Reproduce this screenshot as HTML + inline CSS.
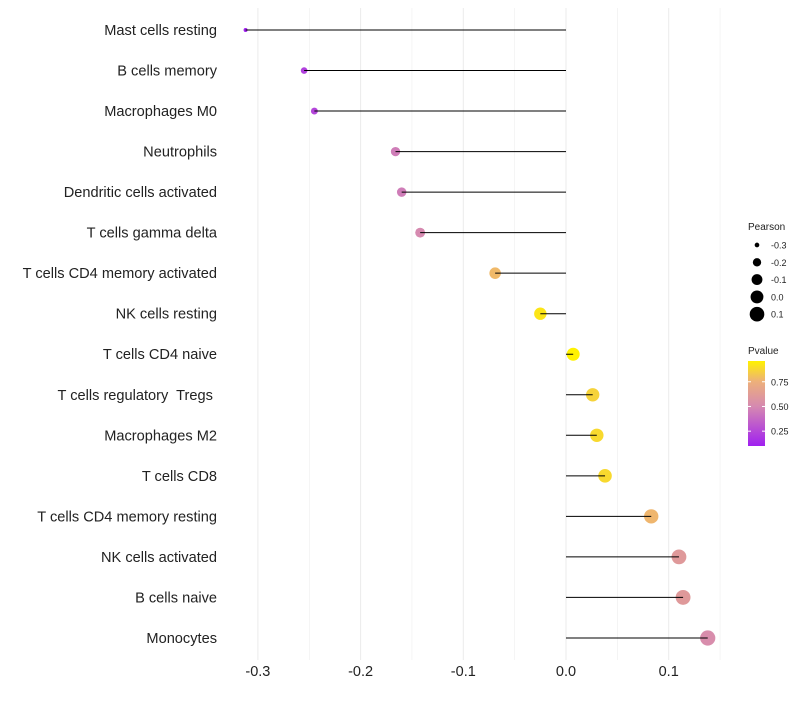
<!DOCTYPE html>
<html><head><meta charset="utf-8"><style>
body{margin:0;background:#fff;font-family:"Liberation Sans",sans-serif}
text{white-space:pre}
</style></head><body>
<svg id="c" width="800" height="700" xmlns="http://www.w3.org/2000/svg" style="font-family:'Liberation Sans',sans-serif"></svg>
<script>
const categories=["Mast cells resting","B cells memory","Macrophages M0","Neutrophils","Dendritic cells activated","T cells gamma delta","T cells CD4 memory activated","NK cells resting","T cells CD4 naive","T cells regulatory  Tregs ","Macrophages M2","T cells CD8","T cells CD4 memory resting","NK cells activated","B cells naive","Monocytes"];
const pearson=[-0.312,-0.255,-0.245,-0.166,-0.160,-0.142,-0.069,-0.025,0.007,0.026,0.030,0.038,0.083,0.110,0.114,0.138];
const pvalue=[0.10,0.22,0.24,0.45,0.45,0.50,0.78,0.92,0.96,0.86,0.88,0.88,0.77,0.60,0.60,0.52];
const xTicks=[-0.3,-0.2,-0.1,0.0,0.1];
const xTickLabels=["-0.3","-0.2","-0.1","0.0","0.1"];
const sizeLegend=[-0.3,-0.2,-0.1,0.0,0.1];
const pLegend=[0.25,0.50,0.75];
const svg=document.getElementById('c');
const NS='http://www.w3.org/2000/svg';
function mk(t,a,p){const e=document.createElementNS(NS,t);for(const k in a)e.setAttribute(k,a[k]);(p||svg).appendChild(e);return e;}
const x=v=>566+v*1027;
const y=i=>30+i*40.53;
const r=v=>Math.sqrt(4+120*Math.max(0,v+0.312));
function col(p){const stops=[[0.10,[160,32,240]],[0.5,[214,138,176]],[0.75,[237,176,122]],[0.96,[255,242,0]]];
 if(p<=stops[0][0])return 'rgb('+stops[0][1]+')';
 for(let i=1;i<stops.length;i++){if(p<=stops[i][0]){const a=stops[i-1],b=stops[i],t=(p-a[0])/(b[0]-a[0]);return 'rgb('+a[1].map((c,j)=>Math.round(c+(b[1][j]-c)*t)).join(',')+')';}}
 return 'rgb('+stops[3][1]+')';}
for(let v=-0.3;v<=0.151;v+=0.05){const g=mk('line',{x1:x(v),x2:x(v),y1:8,y2:660,stroke:'#ebebeb','stroke-width':Math.abs(Math.round(v*20)%2)===0?1:0.5});
}
xTicks.forEach((v,i)=>{const t=mk('text',{x:x(v),y:676,'text-anchor':'middle','font-size':14.5,fill:'#222'});t.textContent=xTickLabels[i];
});
categories.forEach((c,i)=>{
 const t=mk('text',{x:217,y:y(i)+5,'text-anchor':'end','font-size':14.6,fill:'#222'});t.textContent=c;
 
 const d=mk('circle',{cx:x(pearson[i]),cy:y(i),r:r(pearson[i]),fill:col(pvalue[i])});
 
 const l2=mk('line',{x1:x(0),x2:x(pearson[i]),y1:y(i),y2:y(i),stroke:'#000','stroke-width':1});
 
});
let t=mk('text',{x:748,y:230,'font-size':10,fill:'#222'});t.textContent='Pearson';

sizeLegend.forEach((v,i)=>{const cy=245+i*17.3;const c=mk('circle',{cx:757,cy:cy,r:r(v),fill:'#000'});

const tt=mk('text',{x:771,y:cy+3.5,'font-size':9,fill:'#222'});tt.textContent=v.toFixed(1);
});
t=mk('text',{x:748,y:354,'font-size':10,fill:'#222'});t.textContent='Pvalue';

const defs=mk('defs',{});const lg=mk('linearGradient',{id:'g',x1:0,y1:1,x2:0,y2:0},defs);
[[0,'rgb(160,32,240)'],[0.47,'rgb(214,138,176)'],[0.76,'rgb(237,176,122)'],[1,'rgb(255,242,0)']].forEach(s=>mk('stop',{offset:s[0],'stop-color':s[1]},lg));
const bar=mk('rect',{x:748,y:361,width:17,height:85,fill:'url(#g)'});

const py=p=>446-(p-0.10)*(85/0.86);
pLegend.forEach(p=>{mk('line',{x1:748,x2:751,y1:py(p),y2:py(p),stroke:'#fff'});mk('line',{x1:762,x2:765,y1:py(p),y2:py(p),stroke:'#fff'});
const tt=mk('text',{x:771,y:py(p)+3.5,'font-size':9,fill:'#222'});tt.textContent=p.toFixed(2);
});
</script>
</body></html>
